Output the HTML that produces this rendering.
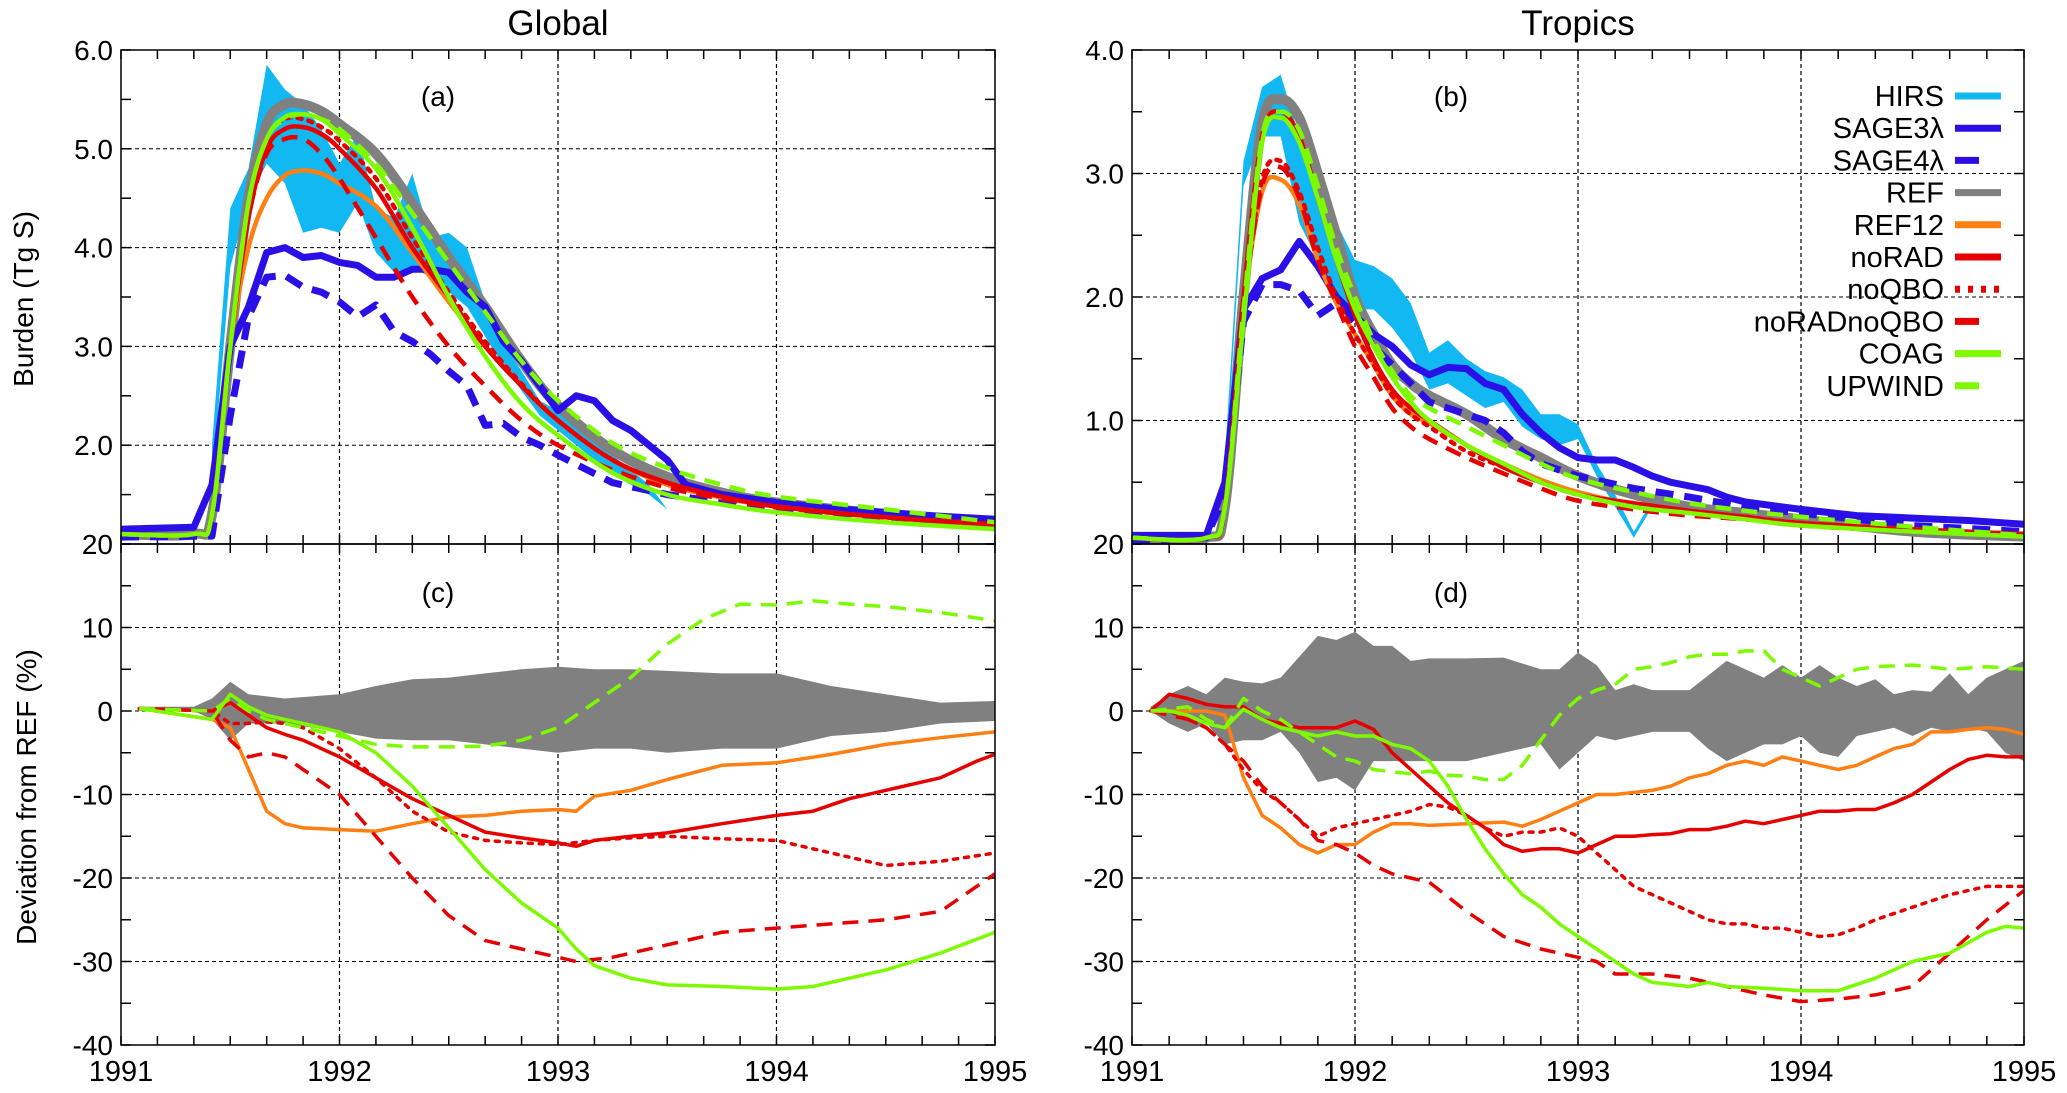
<!DOCTYPE html>
<html><head><meta charset="utf-8"><style>
html,body{margin:0;padding:0;background:#fff;}
svg{display:block;font-family:"Liberation Sans",sans-serif;}
</style></head><body>
<svg id="chart" width="2067" height="1093" viewBox="0 0 2067 1093" xmlns="http://www.w3.org/2000/svg"></svg>
<script>
// ---------- DATA (month index from Jan 1991, value) ----------
const xTickYears = ["1991","1992","1993","1994","1995"];
const burdenTicksA = [2,3,4,5,6];
const burdenTicksB = [1,2,3,4];
const devTicks = [20,10,0,-10,-20,-30,-40];
const legendNames = ["HIRS","SAGE3λ","SAGE4λ","REF","REF12","noRAD","noQBO","noRADnoQBO","COAG","UPWIND"];

// Panel (a) Global burden
const aHirsUpper = [[5,2.0],[6,4.4],[7,4.8],[8,5.85],[9,5.6],[10,5.45],[11,5.2],[12,4.85],[13,5.15],[14,4.4],[15,4.3],[16,4.75],[17,4.1],[18,4.15],[19,4.0],[20,3.45],[21,3.05],[22,2.75],[23,2.45],[24,2.35],[25,2.2],[26,2.1],[27,1.9],[28,1.75],[29,1.6],[30,1.35]];
const aHirsLower = [[5,1.6],[6,3.8],[7,4.5],[8,4.85],[9,4.65],[10,4.15],[11,4.2],[12,4.15],[13,4.45],[14,3.95],[15,3.75],[16,3.8],[17,3.7],[18,3.55],[19,3.4],[20,3.1],[21,2.8],[22,2.55],[23,2.3],[24,2.15],[25,2.0],[26,1.85],[27,1.7],[28,1.6],[29,1.5],[30,1.35]];
const aSage3 = [[0,1.15],[4,1.17],[5,1.6],[6,3.0],[7,3.4],[8,3.95],[9,4.0],[10,3.9],[11,3.92],[12,3.85],[13,3.82],[14,3.7],[15,3.7],[16,3.78],[17,3.78],[18,3.75],[19,3.55],[20,3.4],[21,3.05],[22,2.85],[23,2.6],[24,2.35],[25,2.5],[26,2.45],[27,2.25],[28,2.15],[29,2.0],[30,1.85],[31,1.6],[32,1.55],[33,1.5],[36,1.42],[39,1.36],[42,1.32],[45,1.28],[48,1.25]];
const aSage4 = [[0,1.07],[5,1.08],[6,2.3],[7,3.3],[8,3.7],[9,3.72],[10,3.6],[11,3.55],[12,3.45],[13,3.3],[14,3.42],[15,3.15],[16,3.05],[17,2.92],[18,2.75],[19,2.6],[20,2.2],[21,2.22],[22,2.08],[23,2.0],[24,1.9],[27,1.62],[30,1.5],[33,1.42],[36,1.35],[42,1.27],[48,1.22]];
const aREF = [[0,1.1],[4,1.1],[5,1.3],[6,3.0],[7,4.5],[8,5.25],[9,5.45],[10,5.45],[11,5.38],[12,5.25],[14,4.95],[16,4.45],[18,3.9],[20,3.4],[22,2.85],[24,2.4],[27,1.95],[30,1.68],[33,1.52],[36,1.42],[42,1.3],[48,1.2]];
const aREF12 = [[0,1.1],[4,1.1],[5,1.3],[6,3.0],[7,4.0],[8,4.5],[9,4.73],[10,4.78],[11,4.75],[12,4.65],[14,4.42],[16,3.95],[18,3.45],[20,3.0],[22,2.6],[24,2.25],[27,1.85],[30,1.6],[33,1.47],[36,1.38],[42,1.27],[48,1.2]];
const aNoRAD = [[0,1.1],[4,1.1],[5,1.3],[6,3.0],[7,4.3],[8,5.0],[9,5.2],[10,5.22],[11,5.15],[12,5.0],[14,4.6],[16,4.0],[18,3.5],[20,3.0],[22,2.6],[24,2.25],[27,1.85],[30,1.62],[33,1.48],[36,1.38],[42,1.27],[48,1.2]];
const aNoQBO = [[0,1.1],[4,1.1],[5,1.3],[6,3.0],[7,4.4],[8,5.1],[9,5.3],[10,5.3],[11,5.22],[12,5.08],[14,4.7],[16,4.1],[18,3.55],[20,3.05],[22,2.62],[24,2.25],[27,1.85],[30,1.62],[33,1.48],[36,1.38],[42,1.27],[48,1.2]];
const aNoRADnoQBO = [[0,1.1],[4,1.1],[5,1.3],[6,3.0],[7,4.3],[8,4.95],[9,5.1],[10,5.1],[11,4.95],[12,4.7],[14,4.1],[16,3.5],[18,3.0],[20,2.6],[22,2.25],[24,2.0],[27,1.75],[30,1.57],[33,1.46],[36,1.37],[42,1.27],[48,1.2]];
const aCOAG = [[0,1.1],[4,1.1],[5,1.3],[6,3.0],[7,4.45],[8,5.1],[9,5.32],[10,5.35],[11,5.3],[12,5.15],[14,4.8],[16,4.2],[18,3.5],[20,2.9],[22,2.42],[24,2.1],[27,1.72],[30,1.5],[33,1.4],[36,1.32],[42,1.22],[48,1.15]];
const aUPWIND = [[0,1.1],[4,1.1],[5,1.3],[6,3.0],[7,4.45],[8,5.1],[9,5.3],[10,5.35],[11,5.3],[12,5.2],[14,4.85],[16,4.35],[18,3.85],[20,3.35],[22,2.85],[24,2.45],[27,2.02],[30,1.77],[33,1.6],[36,1.48],[42,1.35],[48,1.22]];

// Panel (b) Tropics burden
const bHirsUpper = [[5,0.7],[6,3.1],[7,3.7],[8,3.8],[9,3.3],[10,2.9],[11,2.6],[12,2.3],[13,2.25],[14,2.15],[15,1.95],[16,1.55],[17,1.65],[18,1.5],[19,1.4],[20,1.35],[21,1.25],[22,1.05],[23,1.05],[24,0.97],[25,0.65],[26,0.4],[27,0.1],[28,0.35],[29,0.3],[30,0.28]];
const bHirsLower = [[5,0.5],[6,2.9],[7,3.3],[8,3.3],[9,2.6],[10,2.3],[11,2.0],[12,1.9],[13,1.9],[14,1.75],[15,1.55],[16,1.25],[17,1.3],[18,1.2],[19,1.1],[20,1.15],[21,0.95],[22,0.85],[23,0.8],[24,0.85],[25,0.55],[26,0.3],[27,0.05],[28,0.3],[29,0.25],[30,0.25]];
const bSage3 = [[0,0.07],[4,0.07],[5,0.5],[6,1.9],[7,2.15],[8,2.22],[9,2.45],[10,2.25],[11,2.0],[12,1.85],[13,1.7],[14,1.6],[15,1.45],[16,1.37],[17,1.43],[18,1.42],[19,1.3],[20,1.25],[21,1.05],[22,0.9],[23,0.78],[24,0.7],[25,0.68],[26,0.68],[27,0.62],[28,0.55],[29,0.5],[30,0.47],[31,0.44],[32,0.38],[33,0.34],[36,0.28],[39,0.23],[42,0.21],[45,0.19],[48,0.16]];
const bSage4 = [[0,0.03],[4,0.05],[5,0.4],[6,1.8],[7,2.1],[8,2.1],[9,2.05],[10,1.85],[11,1.95],[12,1.8],[13,1.6],[14,1.45],[15,1.3],[16,1.15],[17,1.1],[18,1.05],[19,1.0],[20,0.9],[21,0.75],[22,0.65],[24,0.55],[27,0.45],[30,0.38],[33,0.3],[36,0.25],[42,0.15],[48,0.1]];
const bREF = [[0,0.05],[4,0.05],[5,0.3],[6,2.0],[7,3.4],[8,3.6],[9,3.45],[10,3.0],[11,2.5],[12,2.0],[13,1.7],[14,1.45],[15,1.3],[16,1.2],[18,1.05],[20,0.85],[22,0.7],[24,0.55],[27,0.4],[30,0.3],[33,0.25],[36,0.2],[42,0.1],[48,0.06]];
const bREF12 = [[0,0.05],[4,0.05],[5,0.3],[6,1.9],[7,2.85],[8,2.95],[9,2.75],[10,2.3],[11,1.95],[12,1.7],[13,1.45],[14,1.2],[15,1.05],[16,0.98],[18,0.8],[20,0.65],[22,0.52],[24,0.42],[27,0.32],[30,0.26],[33,0.22],[36,0.17],[42,0.12],[48,0.08]];
const bNoRAD = [[0,0.05],[4,0.05],[5,0.3],[6,2.0],[7,3.3],[8,3.5],[9,3.3],[10,2.8],[11,2.3],[12,1.85],[13,1.5],[14,1.25],[15,1.1],[16,1.0],[18,0.8],[20,0.62],[22,0.5],[24,0.4],[27,0.33],[30,0.27],[33,0.22],[36,0.17],[42,0.12],[48,0.08]];
const bNoQBO = [[0,0.05],[4,0.05],[5,0.3],[6,1.9],[7,2.95],[8,3.1],[9,2.85],[10,2.4],[11,2.0],[12,1.7],[13,1.45],[14,1.2],[15,1.05],[16,0.95],[18,0.75],[20,0.62],[22,0.5],[24,0.4],[27,0.32],[30,0.26],[33,0.22],[36,0.17],[42,0.12],[48,0.08]];
const bNoRADnoQBO = [[0,0.05],[4,0.05],[5,0.3],[6,1.9],[7,2.9],[8,3.05],[9,2.8],[10,2.3],[11,1.95],[12,1.6],[13,1.35],[14,1.1],[15,0.95],[16,0.85],[18,0.7],[20,0.57],[22,0.45],[24,0.35],[27,0.28],[30,0.23],[33,0.2],[36,0.15],[42,0.1],[48,0.07]];
const bCOAG = [[0,0.05],[4,0.05],[5,0.3],[6,1.8],[7,3.25],[8,3.45],[9,3.25],[10,2.8],[11,2.3],[12,1.9],[13,1.6],[14,1.35],[15,1.15],[16,1.0],[18,0.8],[20,0.65],[22,0.5],[24,0.4],[27,0.3],[30,0.25],[33,0.2],[36,0.15],[42,0.1],[48,0.06]];
const bUPWIND = [[0,0.05],[4,0.05],[5,0.3],[6,1.9],[7,3.3],[8,3.5],[9,3.35],[10,2.9],[11,2.4],[12,2.0],[13,1.65],[14,1.4],[15,1.2],[16,1.1],[18,0.95],[20,0.8],[22,0.65],[24,0.53],[27,0.42],[30,0.33],[33,0.27],[36,0.22],[42,0.14],[48,0.07]];

// Panel (c) Global deviation
const cRefUpper = [[1,0.5],[4,0.5],[5,1.5],[6,3.5],[7,2],[9,1.5],[12,2],[14,3],[16,3.8],[18,4],[20,4.5],[22,5],[24,5.3],[26,5],[28,5],[30,4.8],[33,4.5],[36,4.5],[39,3],[42,2],[45,1],[48,1.2]];
const cRefLower = [[1,0],[4,0],[5,-1],[6,-3.5],[7,-1.5],[9,-1.5],[12,-2.5],[14,-3.3],[16,-3.5],[18,-3.5],[20,-4],[22,-4.5],[24,-5],[26,-4.5],[28,-4.5],[30,-5],[33,-4.5],[36,-4.5],[39,-3],[42,-2.5],[45,-1.5],[48,-1.2]];
const cREF12 = [[1,0.3],[5,-1],[6,-2],[7,-7],[8,-12],[9,-13.5],[10,-14],[12,-14.2],[14,-14.4],[16,-13.5],[18,-12.7],[20,-12.5],[22,-12],[24,-11.8],[25,-12],[26,-10.2],[28,-9.5],[30,-8.2],[33,-6.5],[36,-6.2],[39,-5.2],[42,-4],[45,-3.2],[48,-2.5]];
const cNoRAD = [[1,0.3],[5,0],[6,1],[7,-0.5],[8,-2],[9,-2.8],[10,-3.5],[12,-5.5],[14,-8],[16,-10.5],[18,-12.5],[20,-14.5],[22,-15.2],[24,-15.8],[25,-16.2],[26,-15.5],[28,-15],[30,-14.6],[33,-13.5],[36,-12.5],[38,-12],[40,-10.5],[42,-9.5],[45,-8],[47,-6],[48,-5.2]];
const cNoQBO = [[1,0.3],[5,0],[6,-1.5],[7,-1.5],[8,-1.3],[9,-1.5],[10,-2],[12,-4.5],[14,-8],[16,-12],[18,-14.5],[20,-15.5],[22,-15.8],[24,-16],[26,-15.5],[28,-15.2],[30,-15],[33,-15.3],[36,-15.5],[39,-17],[42,-18.5],[45,-18],[48,-17]];
const cNoRADnoQBO = [[1,0.3],[5,0],[6,-3.5],[7,-5.5],[8,-5],[9,-5.5],[10,-7],[12,-10],[14,-15],[16,-20],[18,-24.5],[20,-27.5],[22,-28.5],[24,-29.5],[25,-30],[27,-29.5],[30,-28],[33,-26.5],[36,-26],[39,-25.5],[42,-25],[45,-24],[48,-19.5]];
const cCOAG = [[1,0.3],[5,-1],[6,2],[7,0.5],[8,-0.5],[9,-1],[10,-1.5],[12,-2.5],[14,-5],[16,-9],[18,-14],[20,-19],[22,-23],[24,-26],[25,-28.5],[26,-30.5],[28,-32],[30,-32.8],[33,-33],[36,-33.3],[38,-33],[40,-32],[42,-31],[45,-29],[48,-26.5]];
const cUPWIND = [[1,0.3],[5,0],[6,1.5],[7,0],[8,-1],[10,-2],[12,-3],[14,-4],[16,-4.3],[18,-4.3],[20,-4.2],[22,-3.5],[24,-2],[26,1],[28,4],[30,8],[32,11],[34,12.8],[36,12.7],[38,13.2],[40,12.8],[42,12.5],[45,11.8],[48,10.8]];

// Panel (d) Tropics deviation
const dRefUpper = [[1,0.5],[2,2],[3,3],[4,2],[5,4],[6,3.5],[7,3.3],[8,4],[10,9],[11,8.5],[12,9.5],[13,7.8],[14,7.8],[15,6],[16,6.3],[18,6.3],[20,6.4],[22,5],[23,5],[24,7],[25,5.5],[26,2.5],[27,3.2],[28,2.5],[30,2.5],[32,6],[34,4],[35,5.5],[36,4],[37,5.5],[38,4],[39,3],[40,3.8],[41,2],[42,2.5],[43,2.3],[44,4.5],[45,2],[46,4],[47,5],[48,6]];
const dRefLower = [[1,0],[2,-1.5],[3,-2.5],[4,-1.5],[5,-4],[6,-3.5],[7,-3.5],[8,-2.5],[9,-5],[10,-8.5],[11,-8],[12,-9.5],[13,-6],[14,-6],[16,-6],[18,-6],[20,-5],[22,-4],[23,-7],[24,-5],[25,-3],[26,-3.5],[28,-2.5],[30,-2.5],[31,-4.5],[32,-6],[33,-5],[34,-4],[35,-4],[36,-3],[37,-5],[38,-5.5],[39,-3],[40,-2.5],[41,-2],[42,-3],[43,-2],[44,-2.5],[45,-2],[46,-2.5],[47,-5],[48,-6]];
const dREF12 = [[1,0],[4,0],[5,-0.5],[6,-8],[7,-12.5],[8,-14],[9,-16],[10,-17],[11,-16],[12,-16],[13,-14.5],[14,-13.5],[15,-13.5],[16,-13.7],[18,-13.5],[20,-13.3],[21,-13.8],[22,-13],[23,-12],[24,-11],[25,-10],[26,-10],[28,-9.5],[29,-9],[30,-8],[31,-7.5],[32,-6.5],[33,-6],[34,-6.5],[35,-5.5],[36,-6],[37,-6.5],[38,-7],[39,-6.5],[40,-5.5],[41,-4.5],[42,-4],[43,-2.5],[44,-2.5],[45,-2.2],[46,-2],[47,-2.2],[48,-2.8]];
const dNoRAD = [[1,0],[2,2],[3,1.5],[4,0.8],[5,0.5],[6,0.5],[7,-1],[8,-1.5],[9,-2],[10,-2],[11,-2],[12,-1.2],[13,-2.2],[14,-5],[15,-7],[16,-9],[17,-11],[18,-12.5],[19,-14],[20,-16],[21,-16.8],[22,-16.5],[23,-16.5],[24,-17],[25,-16],[26,-15],[27,-15],[28,-14.8],[29,-14.7],[30,-14.2],[31,-14.2],[32,-13.8],[33,-13.2],[34,-13.5],[35,-13],[36,-12.5],[37,-12],[38,-12],[39,-11.8],[40,-11.8],[41,-11],[42,-10],[43,-8.5],[44,-7],[45,-5.8],[46,-5.3],[47,-5.5],[48,-5.5]];
const dNoQBO = [[1,0],[2,0],[3,-1],[4,-2],[5,-4],[6,-7],[7,-9.5],[8,-11],[9,-13],[10,-15],[11,-14],[12,-13.5],[13,-13],[14,-12.5],[15,-12],[16,-11.2],[17,-11.5],[18,-12.5],[19,-14],[20,-15],[21,-14.5],[22,-14.5],[23,-14],[24,-15],[25,-17],[26,-19],[27,-21],[28,-22],[29,-23],[30,-24],[31,-25],[32,-25.5],[33,-25.5],[34,-26],[35,-26],[36,-26.5],[37,-27],[38,-26.8],[39,-26],[40,-25],[42,-23.5],[44,-22],[46,-21],[48,-21]];
const dNoRADnoQBO = [[1,0],[3,-1],[4,-2],[5,-4],[6,-6],[7,-9],[8,-11],[9,-13],[10,-15.5],[11,-16],[12,-17],[13,-18.5],[14,-19.5],[15,-20],[16,-20.5],[18,-24],[20,-27],[22,-28.5],[24,-29.5],[25,-30],[26,-31.5],[28,-31.5],[30,-32],[32,-33],[34,-34],[36,-34.8],[38,-34.5],[40,-34],[42,-33],[44,-29],[46,-25],[48,-21.5]];
const dCOAG = [[1,0],[2,0],[3,-0.5],[4,-1.5],[5,-2],[6,0.2],[7,-1],[8,-2],[9,-2.5],[10,-3],[11,-2.5],[12,-3],[13,-3],[14,-4],[15,-4.5],[16,-6],[17,-9],[18,-13],[19,-16.5],[20,-19.5],[21,-22],[22,-23.5],[23,-25.5],[24,-27],[25,-28.5],[26,-30],[27,-31.5],[28,-32.5],[30,-33],[31,-32.5],[32,-33],[34,-33.2],[36,-33.5],[38,-33.5],[40,-32],[42,-30],[44,-29],[46,-26.5],[47,-25.8],[48,-26]];
const dUPWIND = [[1,0],[3,0.5],[4,-1],[5,-2],[6,1.5],[7,0],[8,-1],[9,-2.5],[10,-4],[11,-5.5],[12,-6],[13,-7],[14,-7.3],[15,-7.5],[16,-7.2],[17,-7.7],[18,-7.8],[19,-8.2],[20,-8.2],[21,-6.5],[22,-3.5],[23,-0.5],[24,1.5],[25,2.5],[26,3.2],[27,5],[28,5.3],[29,5.8],[30,6.5],[31,6.8],[32,6.8],[33,7.2],[34,7.2],[35,5],[36,4],[37,3],[38,4],[39,5],[40,5.3],[42,5.5],[44,5],[46,5.3],[48,5]];

// ---------- RENDERING ----------
const NS = "http://www.w3.org/2000/svg";
const svg = document.getElementById("chart");
function mk(tag, attrs, parent){
  const e = document.createElementNS(NS, tag);
  for (const k in attrs) e.setAttribute(k, attrs[k]);
  (parent||svg).appendChild(e);
  return e;
}
const COL = {hirs:"#12b8f2", sage:"#2a0fe6", ref:"#808080", ref12:"#ff7f12", red:"#e60000", green:"#7dfa00"};
const Y0=50, YM=544, YB=1045;
const panels = {
  a:{x0:121,x1:995,y0:Y0,y1:YM,vmin:1,vmax:6},
  b:{x0:1132,x1:2024,y0:Y0,y1:YM,vmin:0,vmax:4},
  c:{x0:121,x1:995,y0:YM,y1:YB,vmin:-40,vmax:20},
  d:{x0:1132,x1:2024,y0:YM,y1:YB,vmin:-40,vmax:20}
};
function sx(p,m){return p.x0+(p.x1-p.x0)*m/48;}
function sy(p,v){return p.y1-(p.y1-p.y0)*(v-p.vmin)/(p.vmax-p.vmin);}
function pts(p,arr){return arr.map(d=>[sx(p,d[0]),sy(p,d[1])]);}
function linePath(P){return "M"+P.map(q=>q[0].toFixed(1)+","+q[1].toFixed(1)).join("L");}
function smoothPath(P){
  let d="M"+P[0][0].toFixed(1)+","+P[0][1].toFixed(1);
  for(let i=0;i<P.length-1;i++){
    const p0=P[Math.max(0,i-1)],p1=P[i],p2=P[i+1],p3=P[Math.min(P.length-1,i+2)];
    const c1=[p1[0]+(p2[0]-p0[0])/6,p1[1]+(p2[1]-p0[1])/6];
    const c2=[p2[0]-(p3[0]-p1[0])/6,p2[1]-(p3[1]-p1[1])/6];
    d+="C"+c1[0].toFixed(1)+","+c1[1].toFixed(1)+" "+c2[0].toFixed(1)+","+c2[1].toFixed(1)+" "+p2[0].toFixed(1)+","+p2[1].toFixed(1);
  }
  return d;
}
const defs = mk("defs",{});
for (const k in panels){
  const p=panels[k];
  const cp=mk("clipPath",{id:"clip-"+k},defs);
  mk("rect",{x:p.x0,y:p.y0,width:p.x1-p.x0,height:p.y1-p.y0},cp);
}
function band(k,upper,lower,color,name){
  const p=panels[k];
  const U=pts(p,upper), Lw=pts(p,lower).reverse();
  const e=mk("path",{d:linePath(U.concat(Lw))+"Z",fill:color,stroke:"none","clip-path":"url(#clip-"+k+")"});
  
  
}
function series(k,arr,color,w,dash,smooth,name){
  const p=panels[k];
  const P=pts(p,arr);
  const a={d:smooth?smoothPath(P):linePath(P),fill:"none",stroke:color,"stroke-width":w,"stroke-linejoin":"round","clip-path":"url(#clip-"+k+")"};
  if(dash) a["stroke-dasharray"]=dash;
  if(dash==="4,7") a["stroke-linecap"]="round";
  const e=mk("path",a);
  
  
}

function frame(k, yTicks, yGrid, minorStep){
  const p=panels[k];
  const g=mk("g",{});
  
  
  yGrid.forEach(v=>{
    const y=sy(p,v);
    mk("line",{x1:p.x0,x2:p.x1,y1:y,y2:y,stroke:"#000","stroke-width":1,"stroke-dasharray":"4,3"},g);
  });
  [12,24,36].forEach(m=>{
    const x=sx(p,m);
    mk("line",{x1:x,x2:x,y1:p.y0,y2:p.y1,stroke:"#000","stroke-width":1.2,"stroke-dasharray":"4,3"},g);
  });
  for(let v=p.vmin; v<=p.vmax+1e-9; v+=minorStep){
    const y=sy(p,v);
    mk("line",{x1:p.x0,x2:p.x0+10,y1:y,y2:y,stroke:"#000","stroke-width":1.5},g);
    mk("line",{x1:p.x1,x2:p.x1-10,y1:y,y2:y,stroke:"#000","stroke-width":1.5},g);
  }
  for(let m=0;m<=48;m+=2){
    const x=sx(p,m);
    mk("line",{x1:x,x2:x,y1:p.y1,y2:p.y1-9,stroke:"#000","stroke-width":1.5},g);
    mk("line",{x1:x,x2:x,y1:p.y0,y2:p.y0+9,stroke:"#000","stroke-width":1.5},g);
  }
  yTicks.forEach(v=>{
    const t=mk("text",{x:p.x0-8,y:sy(p,v)+10,"text-anchor":"end","font-size":28,fill:"#000"},g);
    t.textContent = (k==="a"||k==="b")? v.toFixed(1) : String(v);
  });
}
frame("a", burdenTicksA, [2,3,4,5], 0.5);
frame("b", burdenTicksB, [1,2,3], 0.5);
frame("c", devTicks, [10,0,-10,-20,-30], 5);
frame("d", devTicks, [10,0,-10,-20,-30], 5);

band("a",aHirsUpper,aHirsLower,COL.hirs,"hirs-band-global");
series("a",aREF,COL.ref,10,null,true,"ref-line-global");
series("a",aSage3,COL.sage,7,null,false,"sage3-line-global");
series("a",aSage4,COL.sage,7,"18,11",false,"sage4-line-global");
series("a",aREF12,COL.ref12,4.5,null,true,"ref12-line-global");
series("a",aNoRADnoQBO,COL.red,4.5,"16,10",true,"noradnoqbo-line-global");
series("a",aNoQBO,COL.red,4.5,"4,7",true,"noqbo-line-global");
series("a",aNoRAD,COL.red,4.5,null,true,"norad-line-global");
series("a",aUPWIND,COL.green,4.5,"16,10",true,"upwind-line-global");
series("a",aCOAG,COL.green,4.5,null,true,"coag-line-global");
band("b",bHirsUpper,bHirsLower,COL.hirs,"hirs-band-tropics");
series("b",bREF,COL.ref,10,null,true,"ref-line-tropics");
series("b",bSage3,COL.sage,7,null,false,"sage3-line-tropics");
series("b",bSage4,COL.sage,7,"18,11",false,"sage4-line-tropics");
series("b",bREF12,COL.ref12,4.5,null,true,"ref12-line-tropics");
series("b",bNoRADnoQBO,COL.red,4.5,"16,10",true,"noradnoqbo-line-tropics");
series("b",bNoQBO,COL.red,4.5,"4,7",true,"noqbo-line-tropics");
series("b",bNoRAD,COL.red,4.5,null,true,"norad-line-tropics");
series("b",bUPWIND,COL.green,4.5,"16,10",true,"upwind-line-tropics");
series("b",bCOAG,COL.green,4.5,null,true,"coag-line-tropics");
band("c",cRefUpper,cRefLower,COL.ref,"ref-spread-band-global");
series("c",cREF12,COL.ref12,3.5,null,false,"ref12-dev-global");
series("c",cNoRADnoQBO,COL.red,3.5,"16,10",false,"noradnoqbo-dev-global");
series("c",cNoQBO,COL.red,3.5,"4,7",false,"noqbo-dev-global");
series("c",cNoRAD,COL.red,3.5,null,false,"norad-dev-global");
series("c",cUPWIND,COL.green,3.5,"16,10",false,"upwind-dev-global");
series("c",cCOAG,COL.green,3.5,null,false,"coag-dev-global");
band("d",dRefUpper,dRefLower,COL.ref,"ref-spread-band-tropics");
series("d",dREF12,COL.ref12,3.5,null,false,"ref12-dev-tropics");
series("d",dNoRADnoQBO,COL.red,3.5,"16,10",false,"noradnoqbo-dev-tropics");
series("d",dNoQBO,COL.red,3.5,"4,7",false,"noqbo-dev-tropics");
series("d",dNoRAD,COL.red,3.5,null,false,"norad-dev-tropics");
series("d",dUPWIND,COL.green,3.5,"16,10",false,"upwind-dev-tropics");
series("d",dCOAG,COL.green,3.5,null,false,"coag-dev-tropics");

for (const k in panels){
  const p=panels[k];
  const r=mk("rect",{x:p.x0,y:p.y0,width:p.x1-p.x0,height:p.y1-p.y0,fill:"none",stroke:"#000","stroke-width":1.5});
  
  
}
["c","d"].forEach(k=>{
  const p=panels[k];
  xTickYears.forEach((lab,i)=>{
    const t=mk("text",{x:sx(p,i*12),y:1081,"text-anchor":"middle","font-size":29,fill:"#000"});
    t.textContent=lab;
    
    
  });
});
function txt(x,y,s,size,name,anchor,rot){
  const a={x:x,y:y,"font-size":size,fill:"#000","text-anchor":anchor||"middle"};
  if(rot) a.transform="rotate(-90 "+x+" "+y+")";
  const t=mk("text",a);
  t.textContent=s;
  
  
}
txt(558,35,"Global",35,"title-global");
txt(1578,35,"Tropics",35,"title-tropics");
txt(438,106,"(a)",28,"panel-label-a");
txt(1451,106,"(b)",28,"panel-label-b");
txt(438,602,"(c)",28,"panel-label-c");
txt(1451,602,"(d)",28,"panel-label-d");
txt(33,299,"Burden (Tg S)",28,"y-axis-title-burden","middle",true);
txt(36,797,"Deviation from REF (%)",28,"y-axis-title-deviation","middle",true);

const legendStyles = [
  [COL.hirs,null],[COL.sage,null],[COL.sage,"d"],[COL.ref,null],[COL.ref12,null],
  [COL.red,null],[COL.red,"o"],[COL.red,"d"],[COL.green,null],[COL.green,"d"]
];
const lg=mk("g",{});


legendNames.forEach((n,i)=>{
  const y=96+i*32.2;
  const g=mk("g",{},lg);
  
  
  const t=mk("text",{x:1944,y:y+10,"text-anchor":"end","font-size":29,fill:"#000"},g);
  t.textContent=n;
  const a={x1:1955,x2:2001,y1:y,y2:y,stroke:legendStyles[i][0],"stroke-width":7};
  if(legendStyles[i][1]==="d"){a["stroke-dasharray"]="24,30";}
  if(legendStyles[i][1]==="o"){a["stroke-dasharray"]="5,8";}
  mk("line",a,g);
});
</script>
</body></html>
